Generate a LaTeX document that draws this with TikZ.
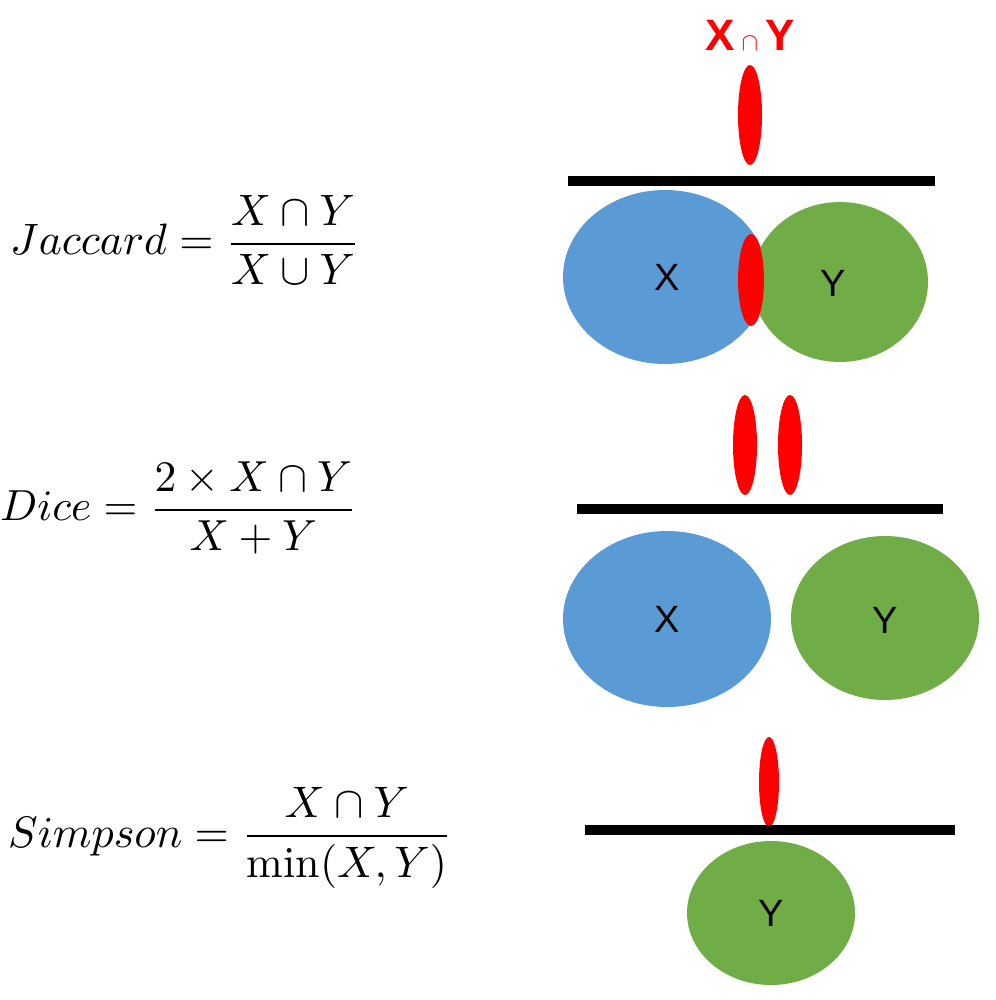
\documentclass[tikz,border=0pt]{standalone}
\usepackage{amsmath}
\usepackage{fontspec}
\newfontfamily\sansf{Liberation Sans}
\begin{document}
\begin{tikzpicture}[x=1pt,y=-1pt,
  red/.style={fill=red,draw=none},
  blue/.style={fill=blue!45!cyan!60!black!80!white,draw=none},
  bar/.style={line width=10pt},
  lab/.style={font=\sansf\fontsize{38}{40}\selectfont},
  frm/.style={anchor=west,inner sep=0}]
\definecolor{cblue}{RGB}{91,155,213}
\definecolor{cgreen}{RGB}{112,173,71}
\useasboundingbox (0,0) rectangle (995,1000);
\node[lab,text=red,font=\sansf\bfseries\fontsize{44}{46}\selectfont] (t) at (750,35) {X\,$\cap$\,Y};
\fill[red] (750,115) ellipse [x radius=12, y radius=50];
\coordinate (a1) at (568,181); \coordinate (a2) at (935,181);
\draw[bar] (a1) -- (a2);
\fill[cblue] (665,277) ellipse [x radius=102, y radius=87];
\fill[cgreen] (840,282) ellipse [x radius=88, y radius=80];
\fill[red] (751,280) ellipse [x radius=13, y radius=46];
\node[lab] (x1) at (667,277) {X};
\node[lab] (y1) at (833,283) {Y};
\fill[red] (745,445) ellipse [x radius=12, y radius=50];
\fill[red] (790,445) ellipse [x radius=12, y radius=50];
\coordinate (b1) at (577,509); \coordinate (b2) at (943,509);
\draw[bar] (b1) -- (b2);
\fill[cblue] (667,619) ellipse [x radius=104, y radius=88];
\fill[cgreen] (885,618) ellipse [x radius=94, y radius=82];
\node[lab] (x2) at (667,619) {X};
\node[lab] (y2) at (885,620) {Y};
\fill[red] (769,782) ellipse [x radius=10, y radius=45];
\coordinate (c1) at (585,830); \coordinate (c2) at (955,830);
\draw[bar] (c1) -- (c2);
\fill[cgreen] (771,913) ellipse [x radius=84, y radius=72];
\node[lab] (y3) at (771,913) {Y};
\node[frm] (f1) at (10,240) {\resizebox{350pt}{!}{$\displaystyle Jaccard=\frac{X\cap Y}{X\cup Y}$}};
\node[frm] (f2) at (0,508) {\resizebox{357pt}{!}{$\displaystyle Dice=\frac{2\times X\cap Y}{X+Y}$}};
\node[frm] (f3) at (8,838) {\resizebox{444pt}{!}{$\displaystyle Simpson=\frac{X\cap Y}{\min(X,Y)}$}};
\end{tikzpicture}
\end{document}
